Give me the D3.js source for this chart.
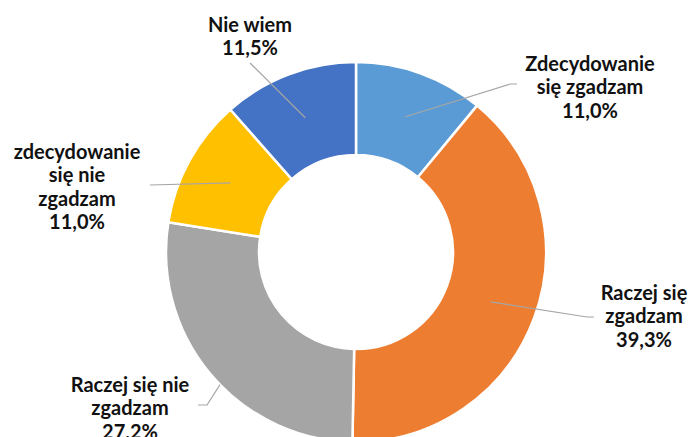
<!DOCTYPE html>
<html>
<head>
<meta charset="utf-8">
<script src="https://cdn.jsdelivr.net/npm/d3@7"></script>
<style>
  body { margin: 0; background: #fff; }
  svg { display: block; }
</style>
</head>
<body>
<div id="chart"></div>
<script>
// Data
const categories = [
  'Zdecydowanie się zgadzam',
  'Raczej się zgadzam',
  'Raczej się nie zgadzam',
  'zdecydowanie się nie zgadzam',
  'Nie wiem'
];
const values = [11.0, 39.3, 27.2, 11.0, 11.5];
const labelLines = [
  ['Zdecydowanie', 'się zgadzam'],
  ['Raczej się', 'zgadzam'],
  ['Raczej się nie', 'zgadzam'],
  ['zdecydowanie', 'się nie', 'zgadzam'],
  ['Nie wiem']
];
const colors = ['#5B9BD5', '#ED7D31', '#A5A5A5', '#FFC000', '#4472C4'];

// Label placement (text centre x, first baseline y, leader start and elbow)
const labelLayout = [
  { x: 590, y: 71, start: [517, 84], elbow: [510, 84] },
  { x: 644, y: 300, start: [594, 317], elbow: [587, 317] },
  { x: 130, y: 392, start: [198, 405], elbow: [207, 405], clip: true },
  { x: 77, y: 159, start: [150, 185], elbow: [150, 185] },
  { x: 250, y: 32, start: [250, 63], elbow: [250, 63] }
];

const W = 690;
const H = 437;
const cx = 356;
const cy = 252;
const outerR = 190;
const innerR = 97;
const lineH = 23.3;

const pl = d3.formatLocale({ decimal: ',', thousands: ' ', grouping: [3], currency: ['', ' zł'] });
const pct = v => pl.format('.1f')(v) + '%';

const svg = d3.select('#chart')
  .append('svg')
  .attr('width', W)
  .attr('height', H);

const g = svg.append('g').attr('transform', `translate(${cx}, ${cy})`);

const pie = d3.pie().sort(null).value(d => d);
const arcs = pie(values);
const arc = d3.arc().innerRadius(innerR).outerRadius(outerR);

g.selectAll('path.slice')
  .data(arcs)
  .join('path')
  .attr('class', 'slice')
  .attr('d', arc)
  .attr('fill', (d, i) => colors[i])
  .attr('stroke', '#fff')
  .attr('stroke-width', 2.5)
  .attr('stroke-linejoin', 'miter');

// Leader lines
function leaderEnd(d, i) {
  const c = arc.centroid(d);
  const L = labelLayout[i];
  if (!L.clip) return c;
  // stop the line where it meets the outer edge
  const ex = L.elbow[0] - cx;
  const ey = L.elbow[1] - cy;
  const dx = c[0] - ex;
  const dy = c[1] - ey;
  const a = dx * dx + dy * dy;
  const b = 2 * (ex * dx + ey * dy);
  const k = ex * ex + ey * ey - outerR * outerR;
  const t = (-b - Math.sqrt(b * b - 4 * a * k)) / (2 * a);
  return [ex + dx * t, ey + dy * t];
}

g.selectAll('polyline.leader')
  .data(arcs)
  .join('polyline')
  .attr('class', 'leader')
  .attr('fill', 'none')
  .attr('stroke', '#A6A6A6')
  .attr('stroke-width', 1.2)
  .attr('points', (d, i) => {
    const L = labelLayout[i];
    const e = leaderEnd(d, i);
    return [
      [L.start[0] - cx, L.start[1] - cy],
      [L.elbow[0] - cx, L.elbow[1] - cy],
      e
    ].map(p => p.join(',')).join(' ');
  });

// Labels
const labels = svg.selectAll('text.label')
  .data(arcs)
  .join('text')
  .attr('class', 'label')
  .attr('text-anchor', 'middle')
  .attr('font-family', 'Lato, "Open Sans", sans-serif')
  .attr('font-weight', 'bold')
  .attr('font-size', '20px')
  .attr('fill', '#111');

labels.each(function(d, i) {
  const L = labelLayout[i];
  const lines = labelLines[i].concat([pct(values[i])]);
  d3.select(this)
    .selectAll('tspan')
    .data(lines)
    .join('tspan')
    .attr('x', L.x)
    .attr('y', (t, j) => L.y + j * lineH)
    .text(t => t);
});
</script>
</body>
</html>
